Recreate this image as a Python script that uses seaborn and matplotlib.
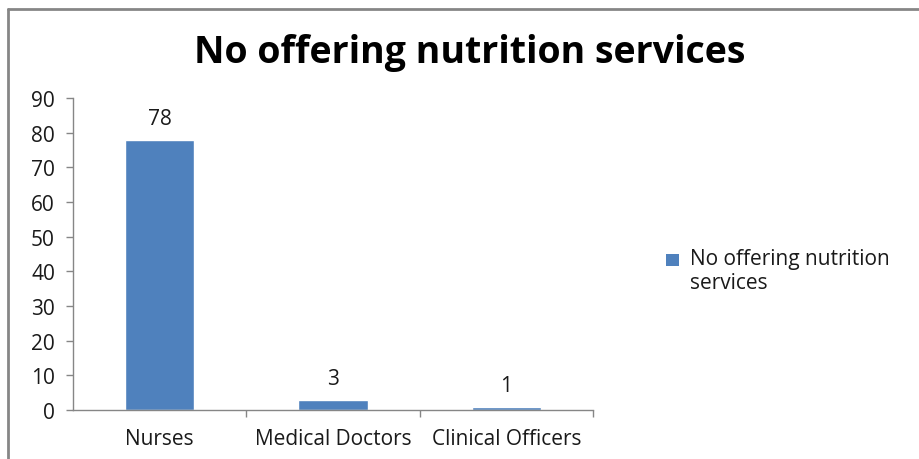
import matplotlib
matplotlib.use("Agg")
import matplotlib.pyplot as plt
import seaborn as sns
import pandas as pd
from matplotlib.lines import Line2D
from matplotlib.patches import Patch, Rectangle
from matplotlib.legend_handler import HandlerPatch

categories = ["Nurses", "Medical Doctors", "Clinical Officers"]
values = [78, 3, 1]
series_name = "No offering nutrition services"
y_ticks = [0, 10, 20, 30, 40, 50, 60, 70, 80, 90]

bar_color = "#4F81BD"
axis_color = "#868686"
text_color = "#1a1a1a"
label_size = 15


class FirstLineSquare(HandlerPatch):
    """Legend key drawn level with the first line of a wrapped label."""

    def create_artists(self, legend, orig_handle, xdescent, ydescent,
                       width, height, fontsize, trans):
        side = 0.6 * fontsize
        shift = 0.55 * fontsize
        p = Rectangle((-xdescent, -ydescent + (height - side) / 2 + shift),
                      side, side, facecolor=orig_handle.get_facecolor(),
                      edgecolor="none", transform=trans)
        return [p]


sns.set_theme(style="white")
plt.rcParams["font.family"] = ["Open Sans", "DejaVu Sans"]

df = pd.DataFrame({"category": categories, "value": values})

fig = plt.figure(figsize=(9.2, 4.6), dpi=100)
ax = fig.add_axes([73 / 920, 1 - 411 / 460, (593 - 73) / 920, (411 - 99) / 460])

sns.barplot(data=df, x="category", y="value", color=bar_color, width=0.4,
            saturation=1, ax=ax)

ax.set_xlim(-0.5, len(categories) - 0.5)
ax.set_ylim(0, 90)
ax.set_yticks(y_ticks)
ax.set_xlabel("")
ax.set_ylabel("")

for s in ["top", "right"]:
    ax.spines[s].set_visible(False)
for s in ["left", "bottom"]:
    ax.spines[s].set_color(axis_color)
    ax.spines[s].set_linewidth(1.0)

ax.tick_params(axis="y", direction="out", length=5, color=axis_color,
               width=1, labelsize=label_size, labelcolor=text_color, pad=8,
               left=True)
ax.tick_params(axis="x", which="major", length=0, labelsize=label_size,
               labelcolor=text_color, pad=13)
ax.set_xticks([i + 0.5 for i in range(len(categories))], minor=True)
ax.tick_params(axis="x", which="minor", direction="out", length=5,
               color=axis_color, width=1, bottom=True)

for i, v in enumerate(values):
    ax.text(i, v + 6.0, str(v), ha="center", va="center", fontsize=label_size,
            color=text_color)

fig.text(470 / 920, 1 - 53 / 460, series_name, ha="center", va="center",
         fontsize=27, fontweight="bold", color="black")

handle = Patch(facecolor=bar_color, edgecolor="none")
fig.legend([handle], ["No offering nutrition\nservices"], loc="upper left",
           bbox_to_anchor=(666 / 920, 1 - 249 / 460), frameon=False,
           fontsize=label_size, handlelength=0.75, handleheight=0.75,
           handletextpad=0.4, labelcolor=text_color, borderpad=0,
           borderaxespad=0, handler_map={Patch: FirstLineSquare()})

# chart frame on the left and top
fig.add_artist(Line2D([8 / 920, 8 / 920], [0, 1 - 10 / 460],
                      transform=fig.transFigure, color=axis_color, lw=2))
fig.add_artist(Line2D([8 / 920, 1], [1 - 10 / 460, 1 - 10 / 460],
                      transform=fig.transFigure, color=axis_color, lw=2))

fig.savefig("out.png", dpi=100)
